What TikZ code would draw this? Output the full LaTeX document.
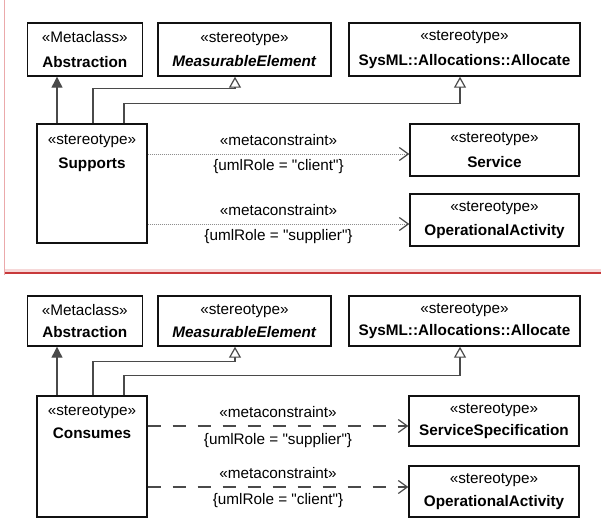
\documentclass[tikz,border=0pt]{standalone}
\usepackage{fontspec}
\setmainfont{Liberation Sans}[Ligatures=TeXOff]
\usetikzlibrary{arrows.meta, positioning, calc}

\begin{document}
\begin{tikzpicture}[
    every node/.style={font=\fontsize{15.3}{24.4}\selectfont},
    % pixel coordinates: origin top left, y grows downwards
    x=1pt, y=-1pt,
]

% ---------------------------------------------------------------- colours
\definecolor{boxline}{HTML}{111111}
\definecolor{linkgrey}{HTML}{4A4A4A}
\definecolor{dotgrey}{HTML}{8E8E8E}
\definecolor{framepink}{HTML}{F6D8D8}
\definecolor{framered}{HTML}{C8393B}
\definecolor{framethin}{HTML}{EBA9AB}

\tikzset{
    classbox/.style={draw=boxline, line width=1.4pt, fill=white,
                     align=center, inner sep=0pt, minimum height=53pt},
    lowbox/.style={classbox, minimum height=50pt,
                   font=\fontsize{15.3}{22.4}\selectfont},
    headtext/.style={align=center, inner sep=0pt},
    rolelabel/.style={inner sep=0pt, text=black},
    extends/.style={linkgrey, line width=1.2pt,
                    -{Triangle[length=11pt, width=11pt]}},
    realizes/.style={linkgrey, line width=1.2pt,
                     -{Triangle[open, length=11pt, width=12pt, fill=white]}},
    tracefine/.style={dotgrey, line width=1pt, dash pattern=on 1pt off 1pt,
                      -{Straight Barb[length=9pt, width=13pt, color=linkgrey,
                        line width=1.2pt]}},
    tracelong/.style={linkgrey, line width=1.2pt, dash pattern=on 13pt off 12pt,
                      -{Straight Barb[length=9pt, width=13pt, line width=1.2pt]}},
}

\useasboundingbox (0,0) rectangle (601,519);

% ---------------------------------------------------------------- frame
\draw[framethin, line width=0.9pt] (4.7,0) -- (4.7,275);
\fill[framepink] (5,269) rectangle (601,272.3);
\draw[framered, line width=1.3pt] (5,273) -- (601,273);

% ---------------------------------------------------------------- Supports
\node[classbox, minimum width=115pt] (abstr) at (84.8,49.5)
    {«Metaclass»\\\textbf{Abstraction}};
\node[classbox, minimum width=173pt] (measure) at (244.5,49.5)
    {«stereotype»\\\textbf{\itshape MeasurableElement}};
\node[classbox, minimum width=231pt] (alloc) at (464.5,49.5)
    {«stereotype»\\\textbf{SysML::Allocations::Allocate}};
\node[classbox, minimum width=110pt, minimum height=119pt] (supports)
    at (92,183.5) {};
\node[headtext, below=11pt of supports.north] (supportshead)
    {«stereotype»\\\textbf{Supports}};
\node[classbox, minimum width=169pt, minimum height=52pt] (service)
    at (494.5,150) {«stereotype»\\\textbf{Service}};
\node[classbox, minimum width=169pt, minimum height=52pt] (opact)
    at (494.5,220) {«stereotype»\\\textbf{OperationalActivity}};

\draw[extends] ([xshift=-35pt]supports.north)
    -- ([xshift=-35pt]supports.north |- abstr.south);
\draw[realizes] ([xshift=1pt]supports.north) -- ++(0,-35)
    -| ([xshift=-9.5pt]measure.south);
\draw[realizes] ([xshift=32pt]supports.north) -- ++(0,-20)
    -| ([xshift=-4.5pt]alloc.south);

\draw[tracefine] ([yshift=29.5pt]supports.east)
    -- ([yshift=29.5pt]supports.east -| service.west)
    node[rolelabel, midway, yshift=14pt] (meta1) {«metaconstraint»}
    node[rolelabel, midway, yshift=-13pt] (role1) {\{umlRole = "client"\}};
\draw[tracefine] ([yshift=-40.5pt]supports.east)
    -- ([yshift=-40.5pt]supports.east -| opact.west)
    node[rolelabel, midway, yshift=14pt] (meta2) {«metaconstraint»}
    node[rolelabel, midway, yshift=-13pt] (role2) {\{umlRole = "supplier"\}};

% ---------------------------------------------------------------- Consumes
\node[lowbox, minimum width=115pt] (abstrb) at (84.8,321)
    {«Metaclass»\\\textbf{Abstraction}};
\node[lowbox, minimum width=173pt] (measureb) at (244.5,321)
    {«stereotype»\\\textbf{\itshape MeasurableElement}};
\node[lowbox, minimum width=231pt] (allocb) at (464.5,321)
    {«stereotype»\\\textbf{SysML::Allocations::Allocate}};
\node[lowbox, minimum width=110pt, minimum height=121pt] (consumes)
    at (92,456.5) {};
\node[headtext, below=10.5pt of consumes.north,
      font=\fontsize{15.3}{22.4}\selectfont] (consumeshead)
    {«stereotype»\\\textbf{Consumes}};
\node[lowbox, minimum width=170pt] (spec) at (494,421)
    {«stereotype»\\\textbf{ServiceSpecification}};
\node[lowbox, minimum width=170pt, minimum height=51pt] (opactb)
    at (494,491.5) {«stereotype»\\\textbf{OperationalActivity}};

\draw[extends] ([xshift=-35pt]consumes.north)
    -- ([xshift=-35pt]consumes.north |- abstrb.south);
\draw[realizes] ([xshift=1pt]consumes.north) -- ++(0,-34)
    -| ([xshift=-9.5pt]measureb.south);
\draw[realizes] ([xshift=32pt]consumes.north) -- ++(0,-20)
    -| ([xshift=-4.5pt]allocb.south);

\draw[tracelong] ([yshift=30.5pt]consumes.east)
    -- ([yshift=30.5pt]consumes.east -| spec.west)
    node[rolelabel, midway, yshift=13.5pt] (meta3) {«metaconstraint»}
    node[rolelabel, midway, yshift=-15pt] (role3) {\{umlRole = "supplier"\}};
\draw[tracelong] ([yshift=-30.5pt]consumes.east)
    -- ([yshift=-30.5pt]consumes.east -| opactb.west)
    node[rolelabel, midway, yshift=13.5pt] (meta4) {«metaconstraint»}
    node[rolelabel, midway, yshift=-13.5pt] (role4) {\{umlRole = "client"\}};

\end{tikzpicture}
\end{document}
